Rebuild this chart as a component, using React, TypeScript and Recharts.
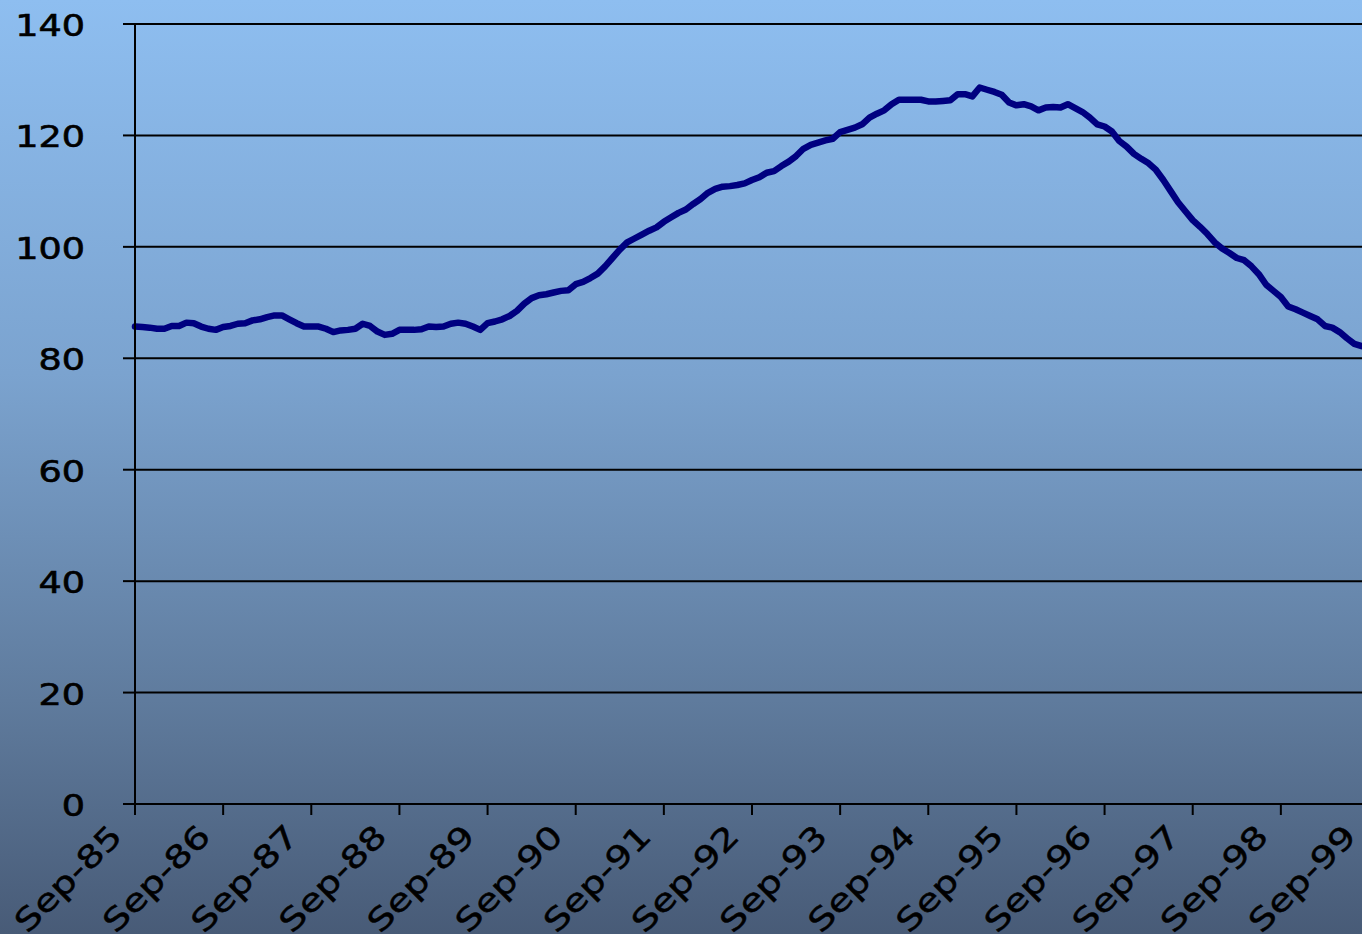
import React from 'react';
import { LineChart, Line, XAxis, YAxis, CartesianGrid } from 'recharts';

// Monthly index values, Sep-85 (index 0) to Sep-99 (index 168)
const values: number[] = [
  85.7, 85.6, 85.5, 85.3, 85.3, 85.8, 85.8, 86.4, 86.3, 85.7, 85.3, 85.1,
  85.6, 85.8, 86.2, 86.3, 86.8, 87.0, 87.4, 87.7, 87.7, 87.0, 86.3, 85.7,
  85.7, 85.7, 85.3, 84.7, 85.0, 85.1, 85.3, 86.2, 85.8, 84.8, 84.2, 84.4,
  85.1, 85.1, 85.1, 85.2, 85.7, 85.6, 85.7, 86.2, 86.4, 86.2, 85.7, 85.1,
  86.3, 86.6, 87.0, 87.6, 88.5, 89.8, 90.8, 91.3, 91.5, 91.8, 92.1, 92.2,
  93.3, 93.7, 94.4, 95.2, 96.5, 98.0, 99.5, 100.8, 101.5, 102.2, 102.9, 103.5,
  104.5, 105.3, 106.1, 106.7, 107.7, 108.6, 109.7, 110.4, 110.8, 110.9, 111.1, 111.4,
  112.0, 112.5, 113.3, 113.6, 114.5, 115.3, 116.3, 117.6, 118.3, 118.7, 119.1, 119.4,
  120.6, 121.0, 121.4, 122.0, 123.2, 123.9, 124.5, 125.6, 126.4, 126.4, 126.4, 126.4,
  126.1, 126.1, 126.2, 126.3, 127.4, 127.4, 127.0, 128.6, 128.2, 127.8, 127.3, 125.9,
  125.4, 125.6, 125.2, 124.5, 125.0, 125.1, 125.0, 125.6, 124.9, 124.2, 123.2, 122.0,
  121.6, 120.7, 119.0, 118.0, 116.7, 115.8, 115.0, 113.8, 112.0, 110.0, 108.0, 106.4,
  104.8, 103.6, 102.3, 100.8, 99.7, 98.9, 98.0, 97.6, 96.5, 95.1, 93.2, 92.1,
  91.0, 89.3, 88.8, 88.2, 87.6, 87.0, 85.8, 85.5, 84.7, 83.6, 82.6, 82.2,
  81.9,
];

const tickLabels: string[] = [
  'Sep-85', 'Sep-86', 'Sep-87', 'Sep-88', 'Sep-89', 'Sep-90', 'Sep-91', 'Sep-92',
  'Sep-93', 'Sep-94', 'Sep-95', 'Sep-96', 'Sep-97', 'Sep-98', 'Sep-99',
];
const xTicks: number[] = [0, 12, 24, 36, 48, 60, 72, 84, 96, 108, 120, 132, 144, 156, 168];
const yTicks: number[] = [0, 20, 40, 60, 80, 100, 120, 140];

const data = values.map((v, i) => ({ m: i, value: v }));

const FONT = '"DejaVu Sans", Verdana, sans-serif';
const AXIS_Y = 804;

const YTick = (props: any) => {
  const { y, payload } = props;
  const cy = payload && payload.coordinate != null ? payload.coordinate : y;
  return (
    <text
      transform={`translate(85, ${cy + 12}) scale(1.22, 1)`}
      textAnchor="end"
      fontFamily={FONT}
      fontSize={30}
      fill="#000"
      stroke="#000"
      strokeWidth={0.6}
    >
      {payload.value}
    </text>
  );
};

const XTick = (props: any) => {
  const { x, payload } = props;
  const cx = payload && payload.coordinate != null ? payload.coordinate : x;
  const idx = xTicks.indexOf(payload.value);
  return (
    <text
      transform={`translate(${cx - 11}, ${AXIS_Y + 34}) rotate(-45) scale(1.25, 1)`}
      textAnchor="end"
      fontFamily={FONT}
      fontSize={31}
      fill="#000"
      stroke="#000"
      strokeWidth={0.5}
    >
      {idx >= 0 ? tickLabels[idx] : ''}
    </text>
  );
};

export default function App() {
  return (
    <div
      style={{
        position: 'absolute',
        left: 0,
        top: 0,
        width: 1362,
        height: 934,
        overflow: 'hidden',
        background: 'linear-gradient(to bottom, #8ebef0 0%, #7ba3cf 40%, #5f7b9d 75%, #485b77 100%)',
      }}
    >
      <LineChart
        width={1379}
        height={934}
        data={data}
        margin={{ top: 24, right: 10, bottom: 0, left: 0 }}
      >
        <CartesianGrid horizontal vertical={false} stroke="#000" strokeWidth={2} />
        <XAxis
          dataKey="m"
          type="number"
          domain={[0, 168]}
          ticks={xTicks}
          interval={0}
          height={130}
          tickSize={11}
          axisLine={{ stroke: '#000', strokeWidth: 2 }}
          tickLine={{ stroke: '#000', strokeWidth: 2 }}
          tick={<XTick />}
        />
        <YAxis
          type="number"
          domain={[0, 140]}
          ticks={yTicks}
          interval={0}
          width={135}
          tickSize={12}
          axisLine={{ stroke: '#000', strokeWidth: 2 }}
          tickLine={{ stroke: '#000', strokeWidth: 2 }}
          tick={<YTick />}
        />
        <Line
          type="linear"
          dataKey="value"
          stroke="#000080"
          strokeWidth={6.5}
          dot={false}
          strokeLinejoin="round"
          strokeLinecap="round"
          isAnimationActive={false}
        />
      </LineChart>
    </div>
  );
}
